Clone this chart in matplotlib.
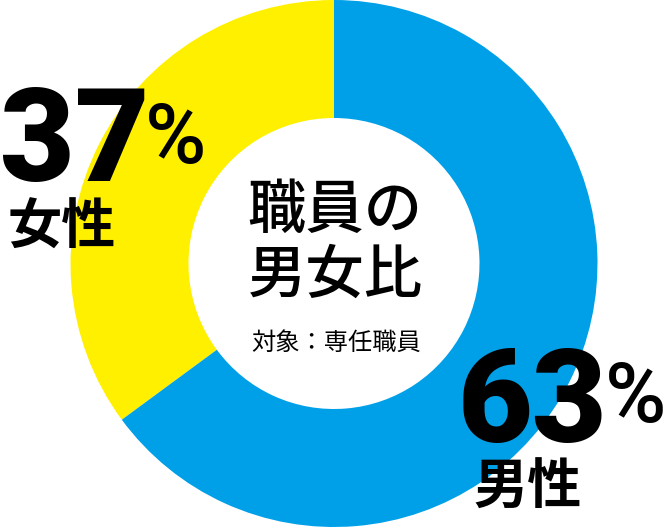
import matplotlib
matplotlib.use("Agg")
import matplotlib.pyplot as plt

# ---- data ----
categories = ["男性", "女性"]
label_percent = ["63", "37"]          # printed percentages
drawn_share = [64.9, 35.1]            # wedge shares
colors = ["#00A0E9", "#FFF000"]
title_lines = ["職員の", "男女比"]
subtitle = "対象：専任職員"

W, H = 670, 530
fig = plt.figure(figsize=(W / 100, H / 100), dpi=100)
ax = fig.add_axes([0, 0, 1, 1])

cx, cy = 334, H - 263.5
R_out, R_in = 263.5, 145.5

# female (yellow) counterclockwise from top, male (blue) the rest
ax.pie([drawn_share[1], drawn_share[0]], colors=[colors[1], colors[0]],
       startangle=90, counterclock=True, center=(cx, cy), radius=R_out,
       wedgeprops=dict(width=R_out - R_in, linewidth=0), frame=True)
ax.set_xlim(0, W)
ax.set_ylim(0, H)
ax.set_aspect("equal")
ax.axis("off")

cjk = ["Noto Sans CJK JP", "DejaVu Sans"]
num_font = ["Roboto", "DejaVu Sans"]

def py(y):
    return H - y

# female label
ax.text(0, py(181), label_percent[1], fontsize=93, fontweight=900, family=num_font,
        ha="left", va="baseline", color="black")
ax.text(145, py(163), "%", fontsize=60, fontweight="medium", family=num_font,
        ha="left", va="baseline", color="black")
ax.text(8, py(244), categories[1], fontsize=39, fontweight="bold", family=cjk,
        ha="left", va="baseline", color="black")

# male label
ax.text(458, py(442), label_percent[0], fontsize=93, fontweight=900, family=num_font,
        ha="left", va="baseline", color="black")
ax.text(605, py(422), "%", fontsize=60, fontweight="medium", family=num_font,
        ha="left", va="baseline", color="black")
ax.text(473, py(504), categories[0], fontsize=39, fontweight="bold", family=cjk,
        ha="left", va="baseline", color="black")

# centre title
ax.text(335, py(228), title_lines[0], fontsize=42, fontweight="medium", family=cjk,
        ha="center", va="baseline", color="black")
ax.text(335, py(293), title_lines[1], fontsize=42, fontweight="medium", family=cjk,
        ha="center", va="baseline", color="black")
ax.text(336, py(350), subtitle, fontsize=17.5, family=cjk,
        ha="center", va="baseline", color="black")

fig.savefig("out.png", dpi=100)
